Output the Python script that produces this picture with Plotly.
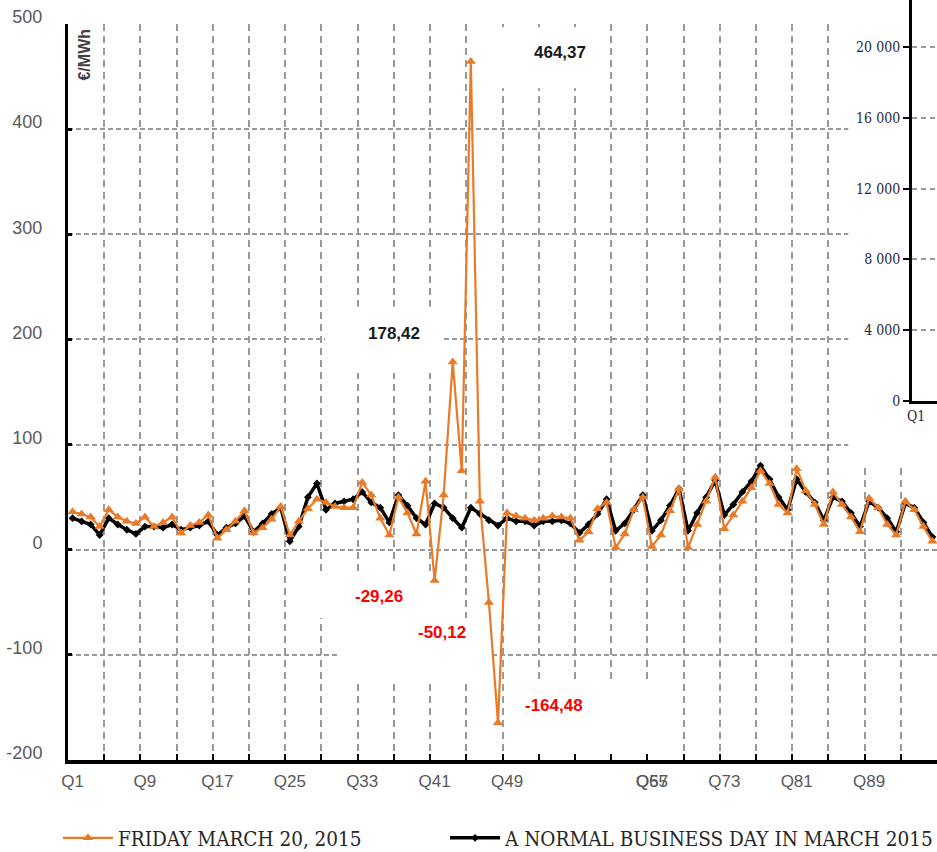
import plotly.graph_objects as go

quarters = list(range(1, 97))
friday = [36, 34, 31, 22, 38, 31, 27, 25, 31, 22, 26, 31, 16, 23, 26, 33,
          11, 19, 27, 37, 16, 21, 29, 41, 14, 27, 39, 48, 45, 41, 40, 40,
          64, 52, 30, 14, 50, 35, 15, 65, -29.26, 52, 178.42, 75, 464.37, 46,
          -50.12, -164.48, 35, 32, 30, 28, 30, 32, 31, 30, 9, 17, 39, 45,
          2, 15, 38, 50, 3, 14, 37, 58, 2, 24, 46, 69, 20, 33, 46, 59,
          75, 63, 43, 35, 77, 56, 43, 24, 55, 43, 31, 17, 49, 40, 24, 14,
          46, 38, 22, 8]
normal = [30, 27, 24, 14, 30, 24, 19, 15, 22, 22, 21, 24, 19, 21, 23, 27,
          14, 21, 25, 32, 17, 25, 34, 40, 8, 22, 50, 63, 38, 44, 46, 48,
          55, 45, 40, 26, 52, 42, 30, 24, 44, 40, 30, 21, 40, 34, 28, 23,
          30, 27, 27, 23, 27, 27, 28, 25, 16, 24, 34, 48, 18, 25, 38, 52,
          18, 28, 42, 58, 18, 35, 50, 66, 33, 43, 55, 65, 80, 67, 50, 38,
          67, 55, 45, 28, 50, 46, 35, 22, 46, 40, 30, 17, 44, 40, 26, 12]
tick_q = [1, 9, 17, 25, 33, 41, 49, 65, 73, 81, 89]
tick_labels = ["Q" + str(q) for q in tick_q]
hour_bounds = [4.5 + 4 * k for k in range(23)]
y_ticks = [-200, -100, 0, 100, 200, 300, 400, 500]
y_tick_labels = [str(v) for v in y_ticks]
inset_ticks = [0, 4000, 8000, 12000, 16000, 20000]
inset_labels = ["0", "4 000", "8 000", "12 000", "16 000", "20 000"]

# labelled points: (quarter, value, color, xshift, yshift)
labelled = [(45, 464.37, "#1a1a1a", 89, 9), (43, 178.42, "#1a1a1a", -59, 29),
            (41, -29.26, "#FF0000", -56, -16), (47, -50.12, "#FF0000", -47, -30),
            (48, -164.48, "#FF0000", 56, 17)]

ORANGE = "#EA7A26"
GRID = "#9a9a9a"
LEGEND_FONT = dict(family="DejaVu Serif Condensed, DejaVu Serif", size=20.5, color="#262626")

fig = go.Figure()
fig.add_trace(go.Scatter(
    x=quarters, y=normal, mode="lines+markers", name="A NORMAL BUSINESS DAY IN MARCH 2015",
    line=dict(color="black", width=3.5), marker=dict(symbol="diamond", size=6, color="black"),
    legend="legend2"))
fig.add_trace(go.Scatter(
    x=quarters, y=friday, mode="lines+markers", name="FRIDAY MARCH 20, 2015",
    line=dict(color=ORANGE, width=2.2), marker=dict(symbol="triangle-up", size=9, color=ORANGE),
    legend="legend"))
# empty trace to hold the inset axes
fig.add_trace(go.Scatter(x=[], y=[], xaxis="x2", yaxis="y2", showlegend=False))

annotations = []
for q, v, c, dx, dy in labelled:
    annotations.append(dict(
        x=q, y=v, xref="x", yref="y", showarrow=False,
        text=("%.2f" % v).replace(".", ","), xshift=dx, yshift=dy,
        font=dict(family="Liberation Sans, Arial", size=17, color=c, weight="bold")))
annotations.append(dict(x=65, y=0, xref="x", yref="paper", yanchor="middle", yshift=-21,
                        showarrow=False, text="Q57",
                        font=dict(family="Liberation Sans, Arial", size=17, color="#595959")))
annotations.append(dict(x=0.0190, y=0.9276, xref="paper", yref="paper", showarrow=False,
                        xanchor="center", yanchor="middle",
                        text="€/MWh", textangle=-90,
                        font=dict(family="Liberation Sans, Arial", size=16, color="#404040",
                                  weight="bold")))

# white label boxes hiding gridlines (drawn above grid, below traces)
boxes = [(45.8, 58.7, 497, 439), (28.9, 41.8, 231, 168), (27.9, 41.8, -24, -65),
         (30.5, 47.0, -65, -126), (50.9, 67.0, -126, -200), (86.7, 96.6, 510, 78)]
shapes = [dict(type="rect", xref="x", yref="y", x0=a, x1=b, y0=c, y1=d,
               fillcolor="white", line=dict(width=0), layer="between")
          for a, b, c, d in boxes]

fig.update_layout(
    width=937, height=852,
    margin=dict(l=68, r=0, t=0, b=92, autoexpand=False),
    paper_bgcolor="white", plot_bgcolor="white",
    showlegend=True,
    legend=dict(orientation="h", x=-0.0115, xanchor="left", y=-0.1026, yanchor="middle",
                itemwidth=50, font=LEGEND_FONT, bgcolor="rgba(0,0,0,0)"),
    legend2=dict(orientation="h", x=0.4339, xanchor="left", y=-0.1026, yanchor="middle",
                 itemwidth=50, font=LEGEND_FONT, bgcolor="rgba(0,0,0,0)"),
    xaxis=dict(range=[0.5, 96.5], domain=[0, 1], tickmode="array", tickvals=tick_q,
               ticktext=tick_labels, ticks="", showgrid=False, zeroline=False,
               showline=True, linecolor="black", linewidth=4, ticklabelstandoff=3,
               tickfont=dict(family="Liberation Sans, Arial", size=17, color="#595959"),
               minor=dict(tickmode="array", tickvals=hour_bounds, showgrid=True,
                          gridcolor=GRID, gridwidth=1.5, griddash="7px,5px",
                          ticks="inside", ticklen=6, tickwidth=2, tickcolor="black")),
    yaxis=dict(range=[-200, 500], domain=[0, 0.968421], tickmode="array", tickvals=y_ticks,
               ticktext=y_tick_labels,
               showgrid=True, gridcolor=GRID, gridwidth=1.5, griddash="5px,3px",
               zeroline=False, showline=True, linecolor="black", linewidth=3,
               ticks="inside", ticklen=4, tickwidth=3, tickcolor="black",
               ticklabelstandoff=19, ticklabelshift=-7,
               tickfont=dict(family="Liberation Sans, Arial", size=18, color="#595959")),
    xaxis2=dict(domain=[0.9712, 1], anchor="y2", range=[0, 3], tickmode="array",
                tickvals=[0.5], ticktext=["Q1"], ticks="", showgrid=False, zeroline=False,
                showline=True, linecolor="black", linewidth=3,
                tickfont=dict(family="DejaVu Serif Condensed, DejaVu Serif", size=14,
                              color="#262640")),
    yaxis2=dict(domain=[0.47237, 1], anchor="x2", range=[0, 22655], tickmode="array",
                tickvals=inset_ticks, ticktext=inset_labels, showgrid=True, gridcolor=GRID,
                gridwidth=1.5, griddash="5px,4px", zeroline=False, showline=True,
                linecolor="black", linewidth=3, ticks="outside", ticklen=6, tickwidth=2,
                tickcolor="black",
                tickfont=dict(family="DejaVu Serif Condensed, DejaVu Serif", size=14,
                              color="#262640")),
    annotations=annotations,
    shapes=shapes,
)

fig.write_html("out.html", config={"displayModeBar": False},
               post_script="document.body.style.margin='0px';")
